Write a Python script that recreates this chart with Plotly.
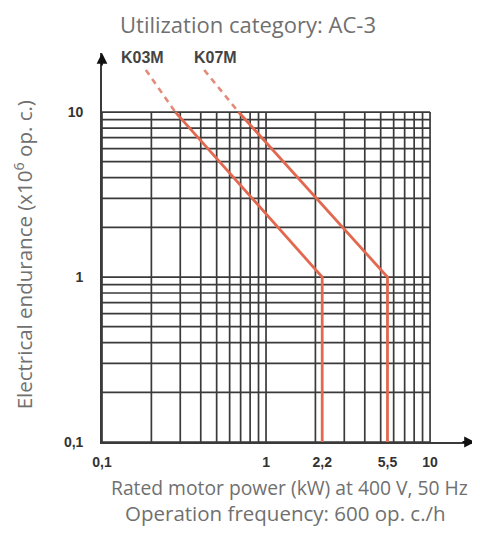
import plotly.graph_objects as go

# ---- data ----
k03m_solid_x = [0.28, 2.2, 2.2]
k03m_solid_y = [10, 1, 0.1]
k03m_dash_x = [0.185, 0.28]
k03m_dash_y = [18, 10]

k07m_solid_x = [0.68, 5.5, 5.5]
k07m_solid_y = [10, 1, 0.1]
k07m_dash_x = [0.42, 0.68]
k07m_dash_y = [18, 10]

x_tickvals = [0.1, 1, 2.2, 5.5, 10]
x_ticktext = ["0,1", "1", "2,2", "5,5", "10"]
y_tickvals = [0.1, 1, 10]
y_ticktext = ["0,1", "1", "10"]

grid_vals = [m * 10 ** e for e in (-1, 0) for m in range(1, 10)] + [10]

RED = "#e2694f"
GRID = "#3a3a3a"
TICKFONT = dict(family="Liberation Sans, Arial", size=14, color="#333", weight="bold")

fig = go.Figure()

for xs, ys in [(k03m_solid_x, k03m_solid_y), (k07m_solid_x, k07m_solid_y)]:
    fig.add_trace(go.Scatter(x=xs, y=ys, mode="lines",
                             line=dict(color=RED, width=2.8),
                             showlegend=False, hoverinfo="skip"))
for xs, ys in [(k03m_dash_x, k03m_dash_y), (k07m_dash_x, k07m_dash_y)]:
    fig.add_trace(go.Scatter(x=xs, y=ys, mode="lines",
                             line=dict(color="#e48a78", width=2.6, dash="6px,5px"),
                             showlegend=False, hoverinfo="skip"))

shapes = []
for v in grid_vals:
    shapes.append(dict(type="line", xref="x", yref="y", x0=v, x1=v, y0=0.1, y1=10,
                       line=dict(color=GRID, width=1.7), layer="below"))
    shapes.append(dict(type="line", xref="x", yref="y", x0=0.1, x1=10, y0=v, y1=v,
                       line=dict(color=GRID, width=1.7), layer="below"))

x_range = [-1, 1.274]
y_range = [-1, 1.358]

# the page body has an 8px margin, so the figure is offset by 8px
fig.update_layout(
    template="none",
    width=472, height=529,
    margin=dict(l=94, r=5, t=45, b=95, autoexpand=False),
    paper_bgcolor="white", plot_bgcolor="white",
    shapes=shapes,
    xaxis=dict(type="log", range=x_range, tickvals=x_tickvals, ticktext=x_ticktext,
               automargin=False,
               showgrid=False, zeroline=False, showline=True, linecolor=GRID, linewidth=1.7,
               ticks="outside", ticklen=6, tickcolor="rgba(0,0,0,0)", tickfont=TICKFONT),
    yaxis=dict(type="log", range=y_range, tickvals=y_tickvals, ticktext=y_ticktext,
               automargin=False,
               showgrid=False, zeroline=False, showline=True, linecolor=GRID, linewidth=1.7,
               ticks="outside", ticklen=14, tickcolor="rgba(0,0,0,0)", tickfont=TICKFONT),
)

ann = []
# arrowheads
ann.append(dict(x=x_range[1], y=-1, xref="x", yref="y", ax=-14, ay=0, text="",
                showarrow=True, arrowhead=2, arrowsize=1.2, arrowwidth=1.8, arrowcolor="#111"))
ann.append(dict(x=-1, y=y_range[1], xref="x", yref="y", ax=0, ay=14, text="",
                showarrow=True, arrowhead=2, arrowsize=1.2, arrowwidth=1.8, arrowcolor="#111"))
# curve labels
for lbl, xv in [("K03M", -0.756), ("K07M", -0.311)]:
    ann.append(dict(x=xv, y=1.33, xref="x", yref="y", text=lbl, showarrow=False,
                    font=dict(family="Liberation Sans, Arial", size=16, color="#444", weight="bold")))
TXT = dict(family="Open Sans, Liberation Sans", color="#707070")
ann.append(dict(x=0.391, y=1.075, xref="paper", yref="paper", text="Utilization category: AC-3",
                showarrow=False, font=dict(TXT, size=22), xanchor="center", yanchor="middle"))
ann.append(dict(x=0.504, y=-0.1157, xref="paper", yref="paper",
                text="Rated motor power (kW) at 400 V, 50 Hz",
                showarrow=False, font=dict(TXT, size=19.3), xanchor="center", yanchor="middle"))
ann.append(dict(x=0.491, y=-0.1825, xref="paper", yref="paper",
                text="Operation frequency: 600 op. c./h",
                showarrow=False, font=dict(TXT, size=20.5), xanchor="center", yanchor="middle"))
ann.append(dict(x=-0.2105, y=0.481, xref="paper", yref="paper",
                text="Electrical endurance (x10<sup>6</sup> op. c.)", textangle=-90,
                showarrow=False, font=dict(TXT, size=20.5), xanchor="center", yanchor="middle"))
fig.update_layout(annotations=ann)

fig.write_html("out.html")
